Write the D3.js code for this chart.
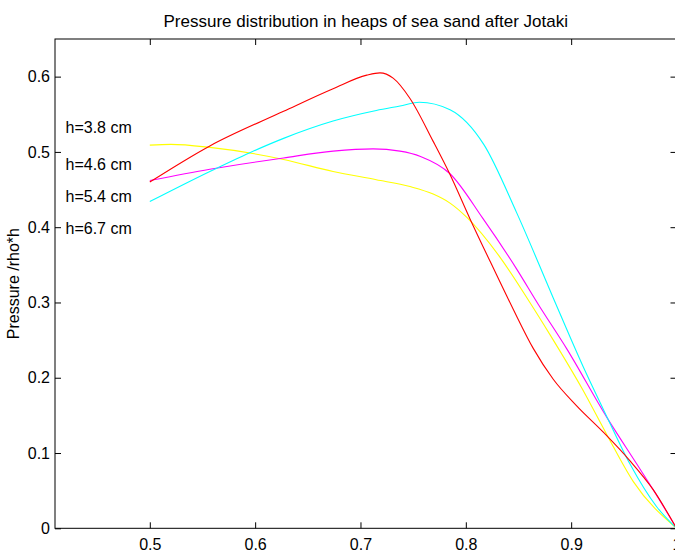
<!DOCTYPE html>
<html>
<head>
<meta charset="utf-8">
<script src="https://d3js.org/d3.v7.min.js"></script>
<style>
  body { margin: 0; background: #fff; }
  svg { display: block; font-family: "Liberation Sans", Arial, sans-serif; }
</style>
</head>
<body>
<div id="chart"></div>
<script>
// series, [r/R, pressure/(rho*h)]
const h38 = [[0.5,0.509],[0.52,0.510],[0.557,0.506],[0.627,0.490],[0.674,0.474],[0.715,0.463],
  [0.747,0.454],[0.769,0.444],[0.785,0.432],[0.801,0.413],[0.832,0.361],[0.859,0.304],
  [0.880,0.257],[0.911,0.184],[0.934,0.124],[0.959,0.062],[1.0,0]];
const h46 = [[0.5,0.462],[0.557,0.477],[0.627,0.492],[0.674,0.501],[0.712,0.504],[0.7375,0.501],
  [0.757,0.494],[0.785,0.471],[0.816,0.412],[0.848,0.345],[0.869,0.297],[0.896,0.238],
  [0.934,0.147],[0.962,0.086],[0.978,0.051],[1.0,0]];
const h54 = [[0.5,0.434],[0.557,0.474],[0.595,0.499],[0.627,0.518],[0.674,0.541],[0.715,0.555],
  [0.7375,0.561],[0.756,0.566],[0.785,0.556],[0.817,0.510],[0.848,0.420],[0.883,0.306],
  [0.911,0.216],[0.934,0.148],[0.956,0.085],[0.981,0.029],[1.0,0]];
const h67 = [[0.5,0.460],[0.557,0.508],[0.627,0.554],[0.674,0.584],[0.706,0.602],[0.7185,0.605],
  [0.731,0.598],[0.747,0.571],[0.769,0.514],[0.785,0.470],[0.804,0.411],[0.826,0.346],
  [0.845,0.291],[0.864,0.239],[0.883,0.198],[0.905,0.163],[0.931,0.127],[0.955,0.091],
  [0.978,0.051],[1.0,0]];

const labels = ["h=3.8 cm", "h=4.6 cm", "h=5.4 cm", "h=6.7 cm"];
const colors = ["#ffff00", "#ff00ff", "#00ffff", "#ff0000"];
const xTicks = [0.5, 0.6, 0.7, 0.8, 0.9, 1];
const yTicks = [0, 0.1, 0.2, 0.3, 0.4, 0.5, 0.6];

const width = 675, height = 552;
const margin = { top: 39, right: -1.5, bottom: 23.7, left: 55 };

const svg = d3.select("#chart").append("svg")
    .attr("width", width)
    .attr("height", height);

const x = d3.scaleLinear().domain([0.41, 1.0]).range([margin.left, width - margin.right]);
const y = d3.scaleLinear().domain([0, 0.65]).range([height - margin.bottom, margin.top]);

// box
svg.append("rect")
    .attr("x", x(0.41)).attr("y", y(0.65))
    .attr("width", x(1) - x(0.41)).attr("height", y(0) - y(0.65))
    .attr("fill", "none").attr("stroke", "#000").attr("stroke-width", 1);

// axes, ticks pointing inward
const fmt = d => d === 1 ? "1" : (d === 0 ? "0" : d3.format(".1f")(d));
svg.append("g").attr("transform", `translate(0,${y(0)})`)
    .call(d3.axisBottom(x).tickValues(xTicks).tickFormat(fmt).tickSizeInner(-6).tickSizeOuter(0).tickPadding(10));
svg.append("g").attr("transform", `translate(${x(0.41)},0)`)
    .call(d3.axisLeft(y).tickValues(yTicks).tickFormat(fmt).tickSizeInner(-6).tickSizeOuter(0).tickPadding(5));
svg.append("g").attr("transform", `translate(0,${y(0.65)})`)
    .call(d3.axisTop(x).tickValues(xTicks).tickFormat("").tickSizeInner(-6).tickSizeOuter(0));
svg.append("g").attr("transform", `translate(${x(1)},0)`)
    .call(d3.axisRight(y).tickValues(yTicks).tickFormat("").tickSizeInner(-6).tickSizeOuter(0));

svg.selectAll(".domain").remove();
svg.selectAll(".tick line").attr("stroke", "#000");
svg.selectAll(".tick text").attr("font-size", 16).attr("font-family", null).attr("fill", "#000");

// curves
const line = d3.line().x(d => x(d[0])).y(d => y(d[1])).curve(d3.curveMonotoneX);
[h38, h46, h54, h67].forEach((s, i) => {
    svg.append("path")
        .datum(s)
        .attr("fill", "none")
        .attr("stroke", colors[i])
        .attr("stroke-width", 1.1)
        .attr("d", line);
});

// labels for the heights
const labelY = [133.3, 170, 202, 233.7];
labels.forEach((t, i) => {
    svg.append("text").attr("x", 65.5).attr("y", labelY[i])
        .attr("font-size", 16).text(t);
});

// title
svg.append("text")
    .attr("x", (x(0.41) + x(1)) / 2).attr("y", 26.7)
    .attr("text-anchor", "middle").attr("font-size", 17)
    .text("Pressure distribution in heaps of sea sand after Jotaki");

// y label
svg.append("text")
    .attr("transform", `translate(19,${(y(0) + y(0.65)) / 2}) rotate(-90)`)
    .attr("text-anchor", "middle").attr("font-size", 16)
    .text("Pressure /rho*h");
</script>
</body>
</html>
